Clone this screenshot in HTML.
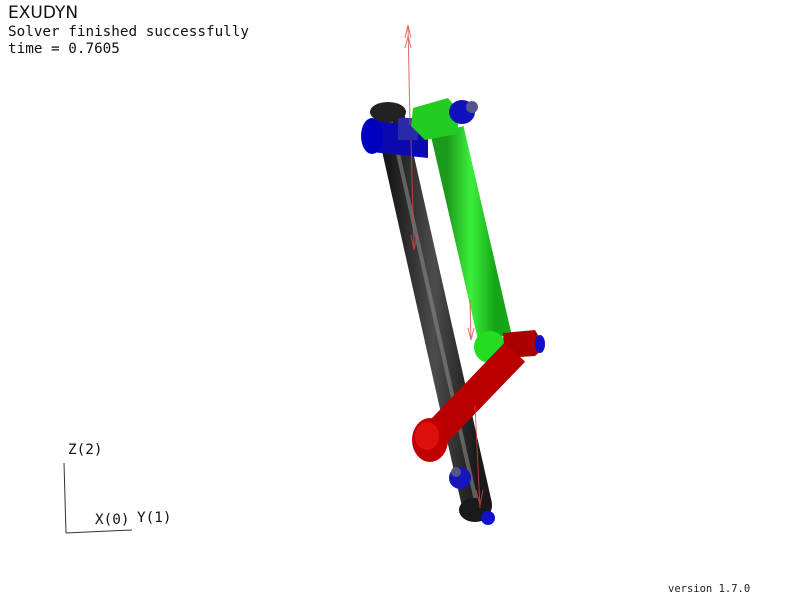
<!DOCTYPE html>
<html><head><meta charset="utf-8"><style>
html,body{margin:0;padding:0;background:#fff;width:800px;height:600px;overflow:hidden}
svg{display:block}
.m{font-family:"DejaVu Sans Mono","Liberation Mono",monospace;font-size:14.3px;fill:#111}
</style></head><body>
<svg width="800" height="600" viewBox="0 0 800 600">
<defs>
<linearGradient id="gb" x1="0" x2="1" y1="0" y2="0"><stop offset="0" stop-color="#111"/><stop offset="0.5" stop-color="#777"/><stop offset="1" stop-color="#111"/></linearGradient>
<linearGradient id="gg" x1="0" x2="1"><stop offset="0" stop-color="#1c9a1c"/><stop offset="0.5" stop-color="#3cf03c"/><stop offset="1" stop-color="#16a516"/></linearGradient>
</defs>
<text x="8" y="18" font-family="DejaVu Sans, Liberation Sans, sans-serif" font-size="17" fill="#111">EXUDYN</text>
<text x="8" y="36" class="m">Solver finished successfully</text>
<text x="8" y="53" class="m">time = 0.7605</text>
<text x="668" y="592" font-family="DejaVu Sans Mono, monospace" font-size="10.5" fill="#222">version 1.7.0</text>
<g stroke="#333" stroke-width="1" fill="none">
<line x1="64" y1="463" x2="66" y2="533"/><line x1="66" y1="533" x2="132" y2="530"/>
</g>
<text x="68" y="454" class="m">Z(2)</text>
<text x="95" y="524" class="m">X(0)</text>
<text x="137" y="522" class="m">Y(1)</text>
<g>
<line x1="390" y1="118" x2="477" y2="505" stroke="url(#gb)" stroke-width="30" stroke-linecap="round"/>
<line x1="390" y1="118" x2="477" y2="505" stroke="#222" stroke-width="30" stroke-linecap="round" opacity="0.5"/>
<line x1="390" y1="118" x2="477" y2="505" stroke="#888" stroke-width="4" opacity="0.6"/>
<ellipse cx="388" cy="112" rx="18" ry="10" fill="#222"/>
<ellipse cx="475" cy="510" rx="16" ry="12" fill="#1a1a1a"/>
</g>
<g>
<path d="M372,120 L428,128 L428,158 L372,152 Z" fill="#0a0ab0"/>
<ellipse cx="372" cy="136" rx="11" ry="18" fill="#0000c0"/>
<rect x="398" y="118" width="20" height="22" fill="#2a2aa8"/>
</g>
<g>
<line x1="447" y1="130" x2="495" y2="338" stroke="url(#gg)" stroke-width="34"/>
<path d="M413,108 L448,98 L460,112 L457,134 L425,140 L411,126 Z" fill="#22cc22"/>
<ellipse cx="462" cy="112" rx="13" ry="12" fill="#1111bb"/>
<ellipse cx="472" cy="107" rx="6" ry="6" fill="#555588"/>
<circle cx="490" cy="347" r="16" fill="#22dd22"/>
</g>
<g>
<path d="M503,333 L535,330 L545,347 L535,356 L505,358 Z" fill="#aa0000"/>
<ellipse cx="540" cy="344" rx="5" ry="9" fill="#1111cc"/>
<line x1="515" y1="352" x2="438" y2="432" stroke="#b80000" stroke-width="28"/>
<ellipse cx="430" cy="440" rx="18" ry="22" fill="#c00000"/>
<ellipse cx="427" cy="436" rx="12" ry="14" fill="#dd1010"/>
</g>
<g>
<ellipse cx="460" cy="478" rx="11" ry="11" fill="#1515bb"/>
<ellipse cx="456" cy="472" rx="5" ry="5" fill="#555588"/>
<ellipse cx="488" cy="518" rx="7" ry="7" fill="#1111cc"/>
</g>
<g stroke="#d44" stroke-width="1" fill="none" opacity="0.8">
<line x1="408" y1="25" x2="410" y2="125"/><path d="M405,38 L408,25 L411,38 M405,48 L408,36 L411,48"/>
<line x1="411" y1="140" x2="414" y2="250"/><path d="M411,235 L414,250 L417,235"/>
<line x1="470" y1="300" x2="471" y2="340"/><path d="M468,328 L471,340 L474,328"/>
<line x1="475" y1="405" x2="480" y2="508"/><path d="M476,490 L480,505 L483,490"/>
</g>
</svg>
</body></html>
